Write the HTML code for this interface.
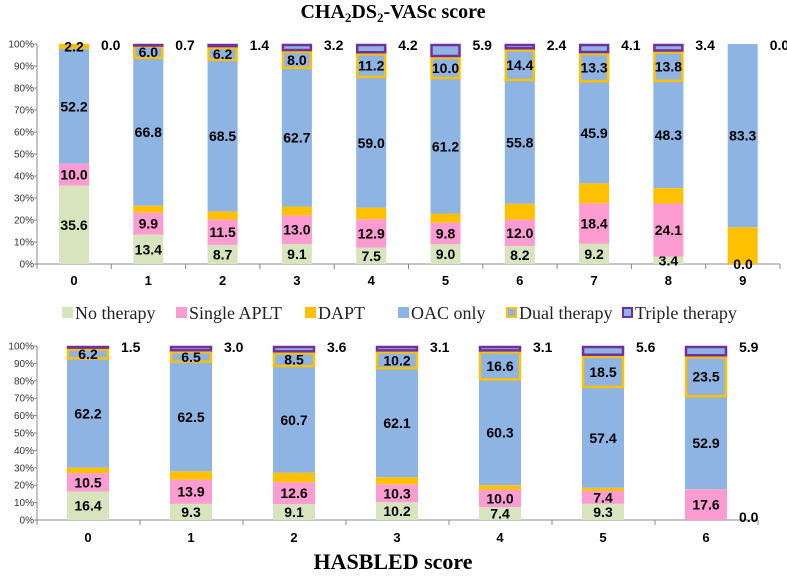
<!DOCTYPE html>
<html><head><meta charset="utf-8"><style>
body{margin:0;background:#fff;width:787px;height:576px;overflow:hidden}
svg text{font-family:"Liberation Sans",sans-serif}
.serif{font-family:"Liberation Serif",serif}
</style></head><body>
<svg id="c" width="787" height="576" xmlns="http://www.w3.org/2000/svg">
<text x="393" y="18" text-anchor="middle" class="serif" font-size="20" font-weight="bold">CHA<tspan font-size="13" dy="4">2</tspan><tspan dy="-4">DS</tspan><tspan font-size="13" dy="4">2</tspan><tspan dy="-4">-VASc score</tspan></text>
<text x="393" y="569" text-anchor="middle" class="serif" font-size="22" font-weight="bold">HASBLED score</text>
</svg>
<script>
const topCats=['0','1','2','3','4','5','6','7','8','9'];
const topNo=[35.6,13.4,8.7,9.1,7.5,9.0,8.2,9.2,3.4,0];
const topSingle=[10.0,9.9,11.5,13.0,12.9,9.8,12.0,18.4,24.1,0];
const topDapt=[0,3.2,3.7,4.0,5.2,4.1,7.2,9.1,7.0,16.7];
const topOac=[52.2,66.8,68.5,62.7,59.0,61.2,55.8,45.9,48.3,83.3];
const topDual=[2.2,6.0,6.2,8.0,11.2,10.0,14.4,13.3,13.8,0];
const topTriple=[0.0,0.7,1.4,3.2,4.2,5.9,2.4,4.1,3.4,0.0];
const botCats=['0','1','2','3','4','5','6'];
const botNo=[16.4,9.3,9.1,10.2,7.4,9.3,0];
const botSingle=[10.5,13.9,12.6,10.3,10.0,7.4,17.6];
const botDapt=[3.2,4.8,5.5,4.1,2.6,1.8,0.1];
const botOac=[62.2,62.5,60.7,62.1,60.3,57.4,52.9];
const botDual=[6.2,6.5,8.5,10.2,16.6,18.5,23.5];
const botTriple=[1.5,3.0,3.6,3.1,3.1,5.6,5.9];
const yTicks=[0,10,20,30,40,50,60,70,80,90,100];
const NS='http://www.w3.org/2000/svg';
const svg=document.getElementById('c');
function mk(t,a,txt){const e=document.createElementNS(NS,t);for(const k in a)e.setAttribute(k,a[k]);if(txt!==undefined)e.textContent=txt;svg.appendChild(e);return e;}
const C={no:'#d7e4bd',single:'#fc9cd0',dapt:'#ffc000',oac:'#8eb4e3',dual:'#ffc000',triple:'#7030a0'};
function chart(p){
  const y=v=>p.y0-(p.y0-p.y100)*v/100;
  const x=i=>p.c0+i*p.step;
  let a=mk('line',{x1:p.ax0,x2:p.ax1,y1:p.y0,y2:p.y0,stroke:'#888'});
  
  a=mk('line',{x1:p.ax0,x2:p.ax0,y1:p.y0,y2:p.y100,stroke:'#888'});
  
  yTicks.forEach(t=>{const e=mk('text',{x:p.ax0-3,y:y(t)+3.5,'text-anchor':'end','font-size':10,fill:'#333'},t+'%');
    
    mk('line',{x1:p.ax0-3,x2:p.ax0,y1:y(t),y2:y(t),stroke:'#888'});});
  for(let i=0;i<=p.cats.length;i++){mk('line',{x1:p.ax0+i*p.step,x2:p.ax0+i*p.step,y1:p.y0,y2:p.y0+5,stroke:'#888'});}
  p.cats.forEach((c,i)=>{
    const e=mk('text',{x:x(i),y:p.y0+p.tickDy,'text-anchor':'middle','font-size':13,'font-weight':'bold'},c);
    
    const series=[['no',p.no],['single',p.single],['dapt',p.dapt],['oac',p.oac],['dual',p.dual],['triple',p.triple]];
    let cum=0;const bx=x(i)-p.bw/2;
    series.forEach(([k,arr])=>{
      const v=arr[i];const yt=y(cum+v),yb=y(cum);const h=yb-yt;
      if(v>0){
        let r;
        if(k==='dual'||k==='triple'){
          r=mk('rect',{x:bx+1,y:yt+1,width:p.bw-2,height:Math.max(h-2,0.5),fill:C.oac,stroke:C[k],'stroke-width':2.5});
        } else r=mk('rect',{x:bx,y:yt,width:p.bw,height:h,fill:C[k]});
        
      }
      let lbl=null;
      if(k==='triple'){lbl=mk('text',{x:bx+p.bw+12,y:p.y100+6,'font-size':14,'font-weight':'bold'},v.toFixed(1));}
      else if(k!=='dapt'&&v>0){lbl=mk('text',{x:x(i),y:(yt+yb)/2+5,'text-anchor':'middle','font-size':14,'font-weight':'bold'},v.toFixed(1));}
      if(lbl){}
      cum+=v;
    });
  });
}
chart({id:'cha2ds2',cats:topCats,no:topNo,single:topSingle,dapt:topDapt,oac:topOac,dual:topDual,triple:topTriple,y0:264,y100:44,c0:74,step:74.3,bw:30,ax0:37,ax1:780,tickDy:21});
chart({id:'hasbled',cats:botCats,no:botNo,single:botSingle,dapt:botDapt,oac:botOac,dual:botDual,triple:botTriple,y0:520,y100:346,c0:88,step:103,bw:42,ax0:37,ax1:758,tickDy:22});
let z=mk('text',{x:743,y:269,'text-anchor':'middle','font-size':14,'font-weight':'bold'},'0.0');

z=mk('text',{x:739,y:522,'font-size':14,'font-weight':'bold'},'0.0');

const legNames=['No therapy','Single APLT','DAPT','OAC only','Dual therapy','Triple therapy'];
const legKeys=['no','single','dapt','oac','dual','triple'];
const legX=[62,176,305,398,506,622];
legNames.forEach((n,i)=>{
  const k=legKeys[i];let s;
  if(k==='dual'||k==='triple') s=mk('rect',{x:legX[i]+1,y:308,width:9,height:9,fill:C.oac,stroke:C[k],'stroke-width':2});
  else s=mk('rect',{x:legX[i],y:307,width:11,height:11,fill:C[k]});
  
  const t=mk('text',{x:legX[i]+13,y:319,'font-size':18,class:'serif',fill:'#222'},n);
  
});
</script>
</body></html>
